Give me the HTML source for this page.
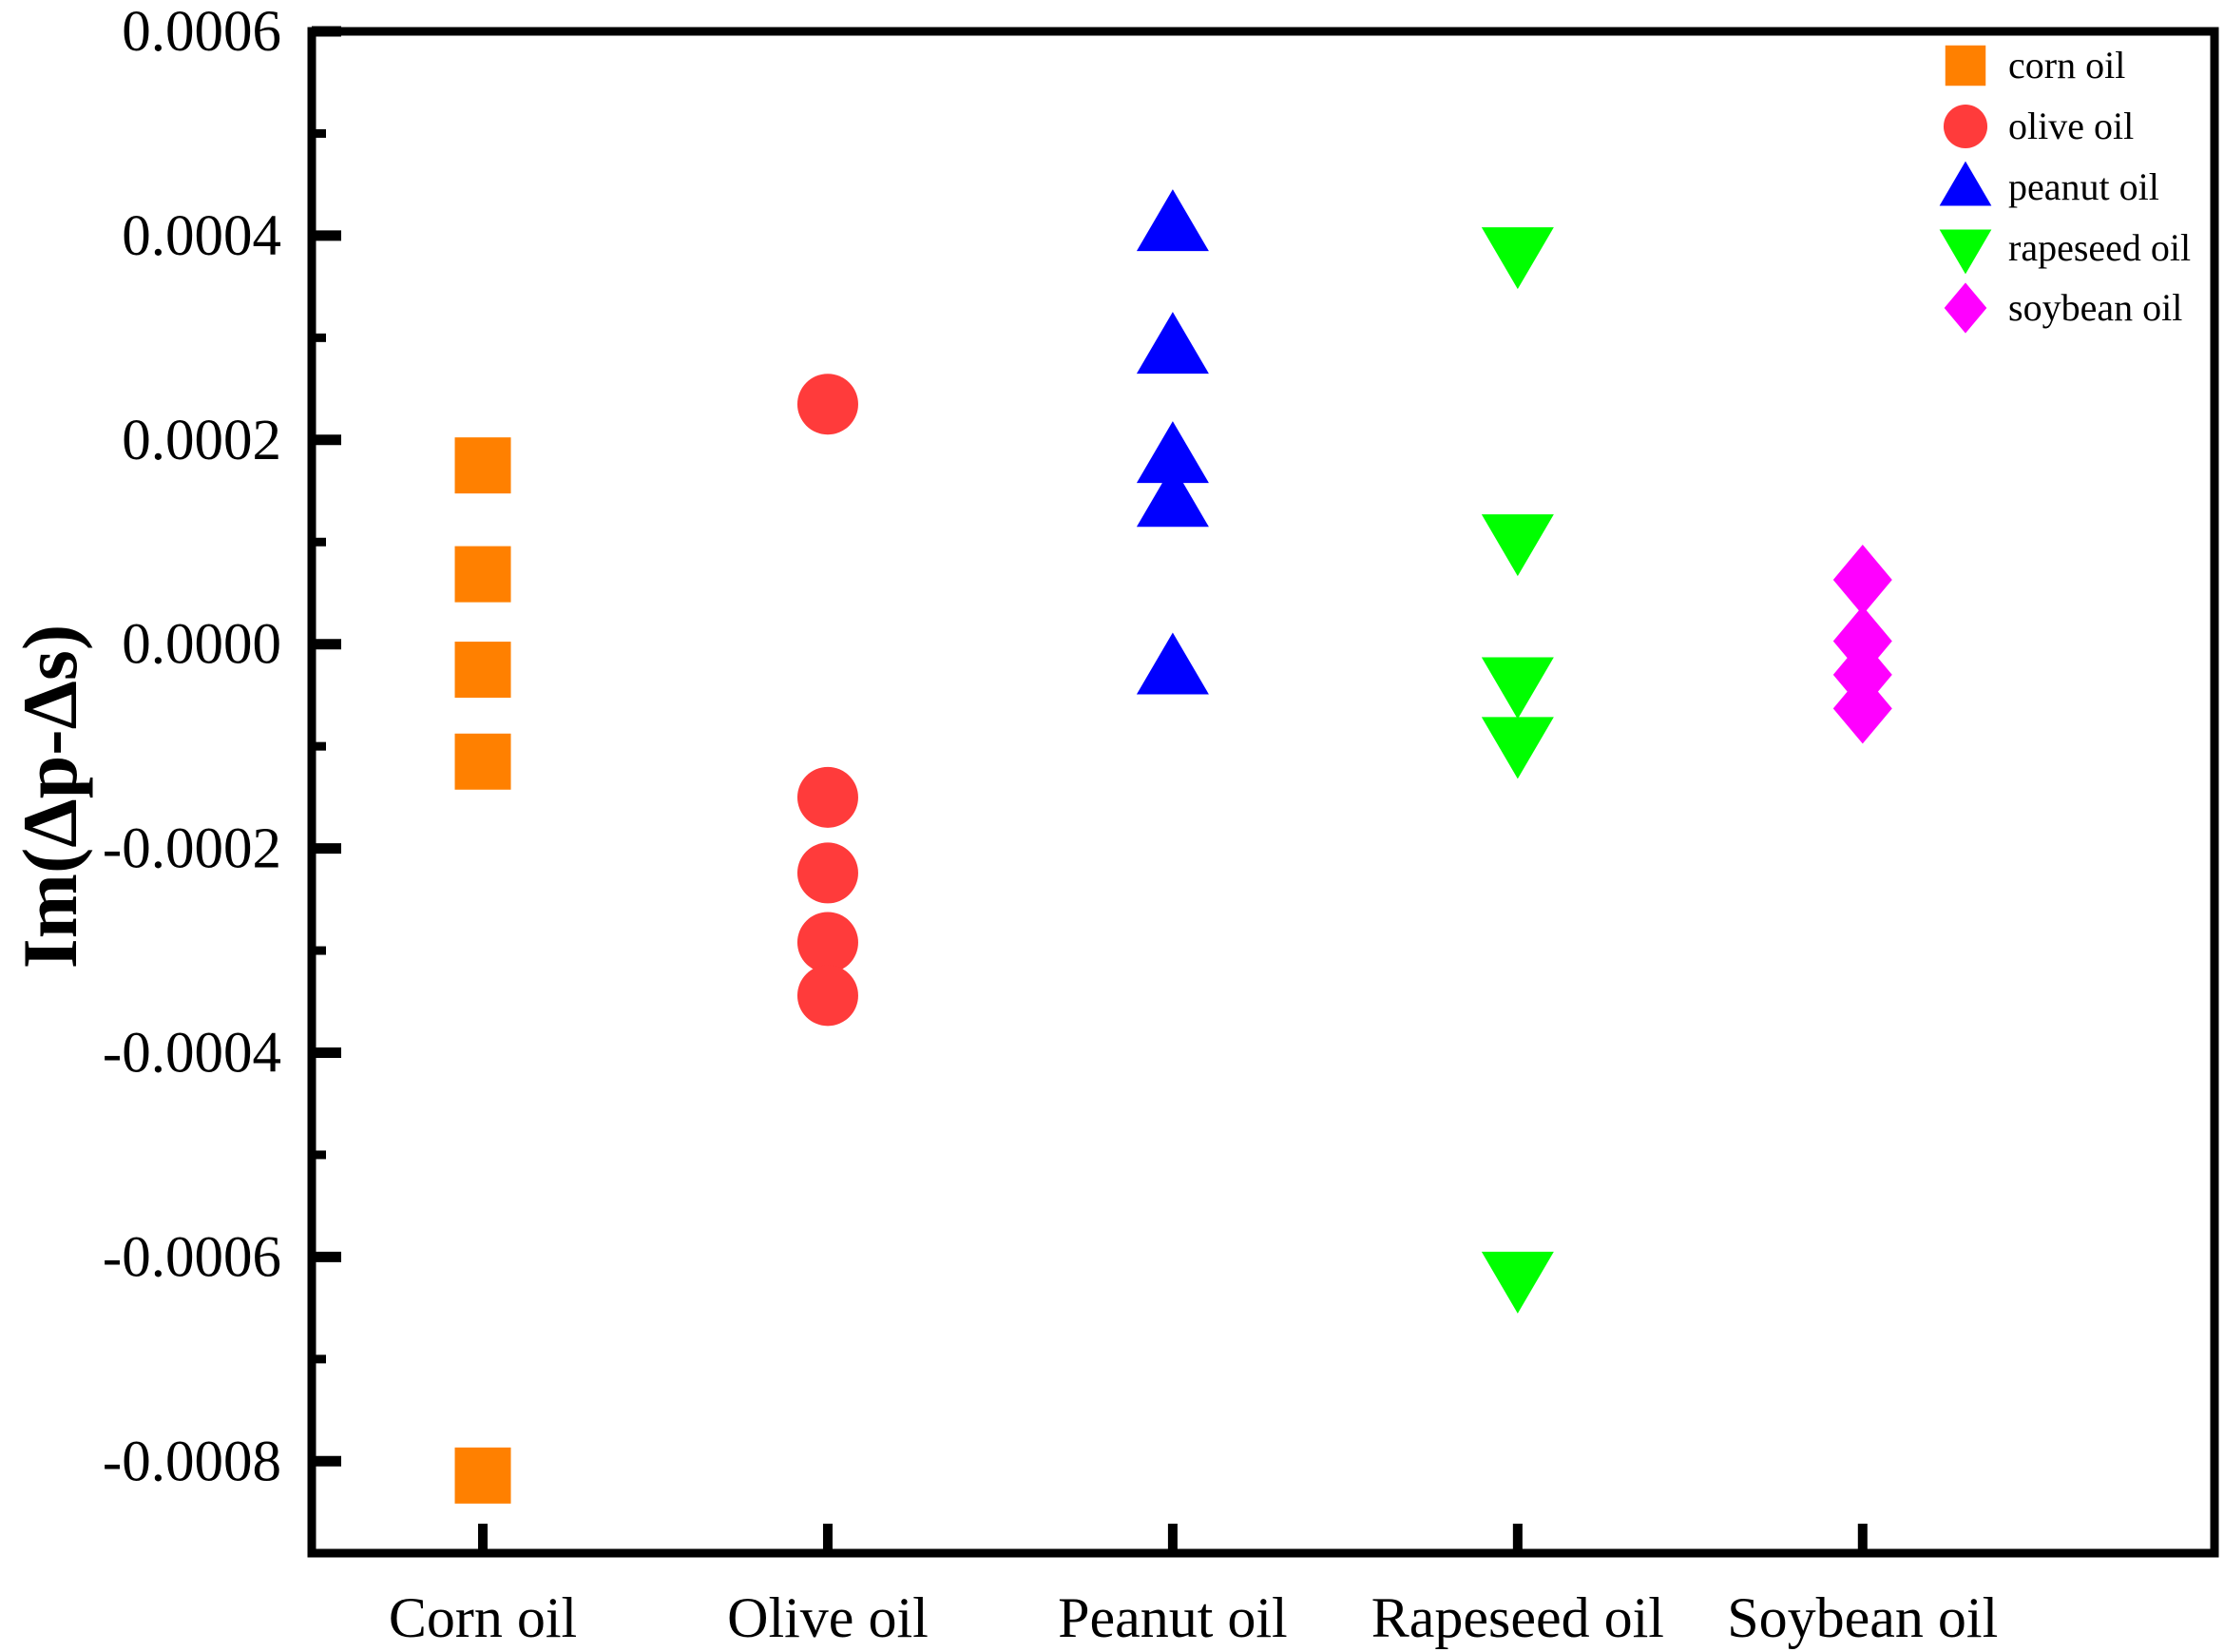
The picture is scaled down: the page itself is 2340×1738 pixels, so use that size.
<!DOCTYPE html>
<html><head><meta charset="utf-8"><style>
html,body{margin:0;padding:0;background:#fff;}
svg{display:block;font-family:"Liberation Serif",serif;}
</style></head><body>
<svg id="chart" width="2340" height="1738" viewBox="0 0 2340 1738" xmlns="http://www.w3.org/2000/svg">
<g id="marks"></g>
<g id="axes"></g>
<g id="legend"></g>
</svg>
<script>
const categories = ["Corn oil","Olive oil","Peanut oil","Rapeseed oil","Soybean oil"];
const seriesNames = ["corn oil","olive oil","peanut oil","rapeseed oil","soybean oil"];
const cornValues = [0.000175, 0.0000685, -0.000025, -0.000115, -0.000814];
const oliveValues = [0.000235, -0.00015, -0.000224, -0.000292, -0.000344];
const peanutValues = [0.00041, 0.00029, 0.000183, 0.00014, -0.000024];
const rapeseedValues = [0.000383, 0.000102, -0.000038, -0.0000965, -0.00062];
const soybeanValues = [0.000063, 0.000003, -0.00003, -0.000063];
const yTicks = [0.0006, 0.0004, 0.0002, 0, -0.0002, -0.0004, -0.0006, -0.0008];
const yTickLabels = ["0.0006","0.0004","0.0002","0.0000","-0.0002","-0.0004","-0.0006","-0.0008"];

const NS="http://www.w3.org/2000/svg";
const L=328,R=2330,T=33,B=1634;
const yMin=-0.00089,yMax=0.0006,xMin=0.504,xMax=6.02;
const yS=v=>T+(yMax-v)/(yMax-yMin)*(B-T);
const xS=i=>L+(i+1-xMin)/(xMax-xMin)*(R-L);
function mk(tag,attrs,parent){const e=document.createElementNS(NS,tag);for(const k in attrs)e.setAttribute(k,attrs[k]);parent.appendChild(e);return e;}
const colors=["#ff8000","#ff3b3b","#0000ff","#00ff00","#ff00ff"];
function marker(type,cx,cy,parent,s){
  s=s||1;let e;
  if(type===0){e=mk('rect',{x:cx-29.5*s,y:cy-29.5*s,width:59*s,height:59*s,fill:colors[0]},parent);}
  else if(type===1){e=mk('circle',{cx:cx,cy:cy,r:32*s,fill:colors[1]},parent);}
  else if(type===2){e=mk('polygon',{points:`${cx},${cy-38*s} ${cx-38*s},${cy+27*s} ${cx+38*s},${cy+27*s}`,fill:colors[2]},parent);}
  else if(type===3){e=mk('polygon',{points:`${cx},${cy+38*s} ${cx-38*s},${cy-27*s} ${cx+38*s},${cy-27*s}`,fill:colors[3]},parent);}
  else {e=mk('polygon',{points:`${cx},${cy-37*s} ${cx+31*s},${cy} ${cx},${cy+37*s} ${cx-31*s},${cy}`,fill:colors[4]},parent);}
  return e;
}
const marks=document.getElementById('marks');
const all=[cornValues,oliveValues,peanutValues,rapeseedValues,soybeanValues];
all.forEach((arr,si)=>{arr.forEach((v,j)=>{
  const e=marker(si,xS(si),yS(v),marks);
  
  
});});
const axes=document.getElementById('axes');
const fr=mk('rect',{x:L,y:T,width:R-L,height:B-T,fill:'none',stroke:'#000','stroke-width':9},axes);


yTicks.forEach((v,i)=>{
  const y=yS(v);
  const t=mk('line',{x1:L,x2:L+31,y1:y,y2:y,stroke:'#000','stroke-width':11},axes);
  
  
  const tx=mk('text',{x:296,y:y+20,'text-anchor':'end','font-size':61},axes);
  tx.textContent=yTickLabels[i];
  
  
  if(i<yTicks.length-1){
    const ym=yS(v-0.0001);
    const m=mk('line',{x1:L,x2:L+15,y1:ym,y2:ym,stroke:'#000','stroke-width':9},axes);
    
    
  }
});
categories.forEach((c,i)=>{
  const x=xS(i);
  const t=mk('line',{x1:x,x2:x,y1:B-31,y2:B,stroke:'#000','stroke-width':10},axes);
  
  
  const tx=mk('text',{x:x,y:1722,'text-anchor':'middle','font-size':60},axes);
  tx.textContent=c;
  
  
});
const yt=mk('text',{x:0,y:0,'text-anchor':'middle','font-size':82,'font-weight':'bold',transform:'translate(80,838) rotate(-90)'},axes);
yt.textContent='Im(Δp-Δs)';


const lg=document.getElementById('legend');
const ly=[69,133,197,261,324];
seriesNames.forEach((n,i)=>{
  const g=mk('g',{},lg);
  
  
  marker(i,2068,ly[i],g,0.72);
  const t=mk('text',{x:2113,y:ly[i]+13,'font-size':40},g);
  t.textContent=n;
});
</script>
</body></html>
